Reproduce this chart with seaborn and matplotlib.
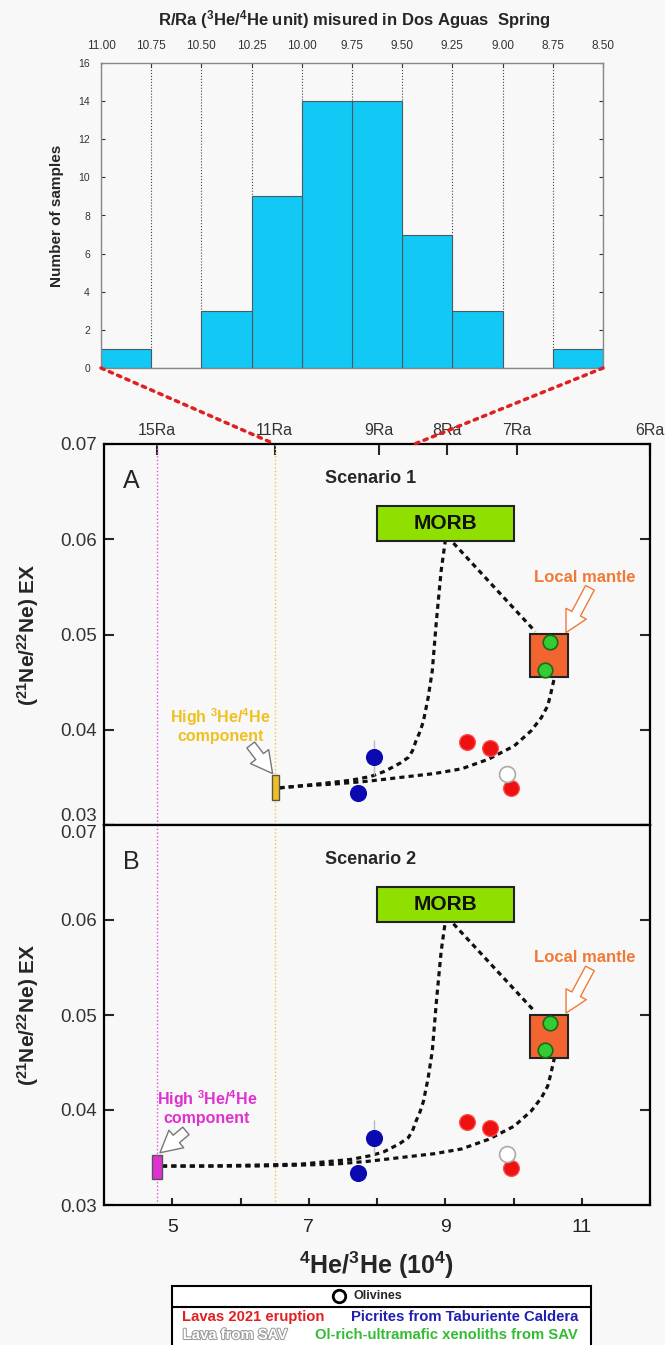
import numpy as np
import pandas as pd
import matplotlib
matplotlib.use("Agg")
import matplotlib.pyplot as plt
import seaborn as sns
from matplotlib.patches import Rectangle, ConnectionPatch
from matplotlib.lines import Line2D
import matplotlib.patheffects as pe

# histogram of R/Ra measured in Dos Aguas spring
hist_edges = [11.00, 10.75, 10.50, 10.25, 10.00, 9.75, 9.50, 9.25, 9.00, 8.75, 8.50]
hist_counts = [1, 0, 3, 9, 14, 14, 7, 3, 0, 1]

# R/Ra ticks on top of the mixing plot (position in 4He/3He x10^4)
ra_pos = [4.78, 6.50, 8.03, 9.03, 10.05, 12.0]
ra_labels = ["15Ra", "11Ra", "9Ra", "8Ra", "7Ra", "6Ra"]

# samples
lavas_x = [9.32, 9.65, 9.96]
lavas_y = [0.0387, 0.0381, 0.0339]
lavas_err = [0.0006, 0.0005, 0.0004]
picrites_x = [7.96, 7.72]
picrites_y = [0.0371, 0.0334]
picrites_err = [0.0018, 0.0]
sav_lava_x = [9.90]
sav_lava_y = [0.0354]
xenolith_x = [10.54, 10.46]
xenolith_y = [0.0492, 0.0463]

# end-members: x0, x1, y0, y1
morb_box = [8.0, 10.0, 0.0598, 0.0635]
mantle_box = [10.24, 10.80, 0.0455, 0.0500]
high_box_a = [6.46, 6.57, 0.0326, 0.0353]
high_box_b = [4.70, 4.85, 0.0327, 0.0353]

# mixing curves
mixA_morb_x = [6.57, 6.88, 7.62, 7.91, 8.10, 8.21, 8.34, 8.46, 8.52, 8.57, 8.63, 8.68, 8.75, 8.81, 8.87, 8.94, 9.00]
mixA_morb_y = [0.0339, 0.0341, 0.0347, 0.0351, 0.0356, 0.0360, 0.0365, 0.0371, 0.0378, 0.0388, 0.0398, 0.0409, 0.0434, 0.0462, 0.0514, 0.0567, 0.0598]
mixA_mantle_x = [6.57, 6.88, 7.37, 7.87, 8.35, 8.84, 9.24, 9.63, 10.01, 10.26, 10.41, 10.50, 10.54, 10.60]
mixA_mantle_y = [0.0339, 0.0341, 0.0343, 0.0346, 0.0350, 0.0354, 0.0359, 0.0369, 0.0383, 0.0399, 0.0413, 0.0425, 0.0436, 0.0455]
mixB_morb_x = [4.85, 5.50, 6.20, 6.88, 7.62, 7.91, 8.10, 8.21, 8.34, 8.46, 8.52, 8.57, 8.63, 8.68, 8.75, 8.81, 8.87, 8.94, 9.00]
mixB_morb_y = [0.0341, 0.0341, 0.0342, 0.0343, 0.0348, 0.0352, 0.0356, 0.0360, 0.0365, 0.0371, 0.0378, 0.0388, 0.0398, 0.0409, 0.0434, 0.0462, 0.0514, 0.0567, 0.0598]
mixB_mantle_x = [4.85, 5.50, 6.20, 6.88, 7.37, 7.87, 8.35, 8.84, 9.24, 9.63, 10.01, 10.26, 10.41, 10.50, 10.54, 10.60]
mixB_mantle_y = [0.0341, 0.0341, 0.0341, 0.0342, 0.0343, 0.0346, 0.0350, 0.0354, 0.0359, 0.0369, 0.0383, 0.0399, 0.0413, 0.0425, 0.0436, 0.0455]
morb_mantle_x = [9.12, 10.32]
morb_mantle_y = [0.0596, 0.0503]

sns.set_style("ticks")
plt.rcParams["font.family"] = ["Liberation Sans", "DejaVu Sans"]
plt.rcParams["mathtext.default"] = "regular"

bg = "#f8f8f8"
W, H = 665, 1345
fig = plt.figure(figsize=(6.65, 13.45), dpi=100, facecolor=bg)


def px_box(l, t, r, b):
    return [l / W, 1 - b / H, (r - l) / W, (b - t) / H]


ax_h = fig.add_axes(px_box(101, 63, 603, 368))
ax_a = fig.add_axes(px_box(104, 444, 650, 825))
ax_b = fig.add_axes(px_box(104, 825, 650, 1205))

# ---- histogram
centers = [(hist_edges[i] + hist_edges[i + 1]) / 2 for i in range(len(hist_counts))]
sns.histplot(x=centers, weights=hist_counts, bins=sorted(hist_edges), color="#12c9f6",
             alpha=1, edgecolor="#4a5a60", linewidth=0.8, ax=ax_h)
ax_h.set_facecolor(bg)
ax_h.set_xlim(11.0, 8.5)
ax_h.set_ylim(0, 16)
ax_h.set_yticks(range(0, 17, 2))
ax_h.set_xticks(hist_edges)
ax_h.set_xticklabels([f"{v:.2f}" for v in hist_edges])
ax_h.xaxis.tick_top()
ax_h.grid(axis="x", linestyle=":", color="#444444", lw=0.8)
ax_h.tick_params(axis="x", top=True, bottom=False, labeltop=True, labelbottom=False,
                 direction="in", length=3, labelsize=8.5, pad=8, colors="#333333")
ax_h.tick_params(axis="y", direction="in", left=True, right=True, length=3,
                 labelsize=7.5, pad=8, colors="#333333")
for s in ax_h.spines.values():
    s.set_color("#888888")
    s.set_linewidth(1)
ax_h.set_xlabel("")
ax_h.set_ylabel("Number of samples", fontsize=11, fontweight="bold", labelpad=10)
fig.text(354 / W, 1 - 20 / H, "R/Ra ($^{3}$He/$^{4}$He unit) misured in Dos Aguas  Spring",
         ha="center", va="center", fontsize=12, fontweight="bold")

arrow_style = "simple,head_length=0.7,head_width=0.75,tail_width=0.32"


# ---- mixing panels
def draw_panel(ax, letter, title, high_box, high_col, high_txt, high_arrow, mix_m, mix_l):
    ax.set_facecolor(bg)
    ax.set_xlim(4, 12)
    ax.set_ylim(0.03, 0.07)
    ax.axvline(ra_pos[0], color="#e050e0", ls=":", lw=1, zorder=1)
    ax.axvline(ra_pos[1], color="#e6c84a", ls=":", lw=1, zorder=1)

    dash = (0, (1.6, 1.3))
    ax.plot(mix_m[0], mix_m[1], color="#111111", lw=2.3, ls=dash, zorder=2)
    ax.plot(mix_l[0], mix_l[1], color="#111111", lw=2.3, ls=dash, zorder=2)
    ax.plot(morb_mantle_x, morb_mantle_y, color="#111111", lw=2.3, ls=dash, zorder=2)

    x0, x1, y0, y1 = morb_box
    ax.add_patch(Rectangle((x0, y0), x1 - x0, y1 - y0, fc="#8fe000", ec="#222222", lw=1.5, zorder=3))
    ax.text((x0 + x1) / 2, (y0 + y1) / 2, "MORB", ha="center", va="center",
            fontsize=15, fontweight="bold", color="#111111", zorder=4)
    x0, x1, y0, y1 = mantle_box
    ax.add_patch(Rectangle((x0, y0), x1 - x0, y1 - y0, fc="#f26530", ec="#222222", lw=1.5, zorder=3))
    x0, x1, y0, y1 = high_box
    ax.add_patch(Rectangle((x0, y0), x1 - x0, y1 - y0, fc=high_col, ec="#555555", lw=1, zorder=3))

    ax.errorbar(lavas_x, lavas_y, yerr=lavas_err, fmt="none", ecolor="#e8a0a0", lw=1, zorder=4)
    ax.errorbar(picrites_x, picrites_y, yerr=picrites_err, fmt="none", ecolor="#b8b8c8", lw=1, zorder=4)
    sns.scatterplot(x=lavas_x, y=lavas_y, color="#ee1111", edgecolor="#ff5050", s=130, ax=ax, zorder=5)
    sns.scatterplot(x=picrites_x, y=picrites_y, color="#0a0ab0", edgecolor="#0a0ab0", s=130, ax=ax, zorder=5)
    sns.scatterplot(x=sav_lava_x, y=sav_lava_y, color="white", edgecolor="#aaaaaa", linewidth=1.2, s=130, ax=ax, zorder=5)
    sns.scatterplot(x=xenolith_x, y=xenolith_y, color="#33cc33", edgecolor="#1a6a1a", linewidth=1.2, s=110, ax=ax, zorder=5)

    ax.text(4.40, 0.0661, letter, fontsize=18, ha="center", va="center")
    ax.text(7.91, 0.0664, title, fontsize=13, fontweight="bold", ha="center", va="center")

    ax.text(11.05, 0.0560, "Local mantle", ha="center", va="center", fontsize=12,
            fontweight="bold", color="#f07a35")
    ax.annotate("", xy=(10.77, 0.0502), xytext=(11.12, 0.0549),
                arrowprops=dict(arrowstyle=arrow_style, fc="white", ec="#f07a35", lw=1,
                                mutation_scale=22, shrinkA=0, shrinkB=0), zorder=6)
    ax.text(high_txt[0], high_txt[1], "High $^{3}$He/$^{4}$He\ncomponent", ha="center", va="center",
            fontsize=11.5, fontweight="bold", color=high_col, linespacing=1.05)
    ax.annotate("", xy=high_arrow[1], xytext=high_arrow[0],
                arrowprops=dict(arrowstyle=arrow_style, fc="white", ec="#777777", lw=1,
                                mutation_scale=22, shrinkA=0, shrinkB=0), zorder=6)

    ax.set_ylabel("($^{21}$Ne/$^{22}$Ne) EX", fontsize=15, fontweight="bold", labelpad=14)
    ax.set_yticks([0.03, 0.04, 0.05, 0.06, 0.07])
    ax.set_yticklabels(["0.03", "0.04", "0.05", "0.06", "0.07"])
    ax.tick_params(axis="y", direction="in", left=True, right=True, length=7, width=1.5,
                   labelsize=13.5, pad=5, labelcolor="#333333")
    for s in ax.spines.values():
        s.set_color("black")
        s.set_linewidth(1.6)


draw_panel(ax_a, "A", "Scenario 1", high_box_a, "#f0c020", (5.71, 0.0405),
           ((6.15, 0.0384), (6.47, 0.0354)), (mixA_morb_x, mixA_morb_y), (mixA_mantle_x, mixA_mantle_y))
draw_panel(ax_b, "B", "Scenario 2", high_box_b, "#e030d0", (5.51, 0.0403),
           ((5.20, 0.0378), (4.82, 0.0355)), (mixB_morb_x, mixB_morb_y), (mixB_mantle_x, mixB_mantle_y))

# panel A: R/Ra on top, nothing at the bottom
ax_a.xaxis.tick_top()
ax_a.set_xticks(ra_pos)
ax_a.set_xticklabels(ra_labels)
ax_a.tick_params(axis="x", top=True, bottom=False, labeltop=True, labelbottom=False,
                 direction="in", length=8, width=1.5, labelsize=11.5, pad=4, labelcolor="#333333")
ax_a.get_yticklabels()[0].set_va("bottom")

# panel B: 4He/3He at the bottom
ax_b.set_xticks(range(4, 13))
ax_b.set_xticklabels(["" if v % 2 == 0 else str(v) for v in range(4, 13)])
ax_b.tick_params(axis="x", top=False, bottom=True, direction="in", length=5, width=1.5,
                 labelsize=14, pad=10, labelcolor="#222222")
ax_b.get_yticklabels()[-1].set_va("top")
ax_b.set_xlabel("$^{4}$He/$^{3}$He (10$^{4}$)", fontsize=18, fontweight="bold", labelpad=10)

# red dotted zoom lines from the histogram to the R/Ra axis
for xa, xb in [(11.0, ra_pos[1]), (8.5, 8.55)]:
    con = ConnectionPatch(xyA=(xa, 0), coordsA=ax_h.transData, xyB=(xb, 0.07), coordsB=ax_a.transData,
                          color="#e02020", lw=2.5, ls=(0, (1, 1.6)), zorder=10)
    fig.add_artist(con)

# legend box
fig.add_artist(Rectangle((172 / W, -0.01), (591 - 172) / W, 1 - 1286 / H + 0.01,
                         transform=fig.transFigure, fc="white", ec="black", lw=1.5))
fig.add_artist(Line2D([172 / W, 591 / W], [1 - 1307 / H] * 2, transform=fig.transFigure, color="black", lw=1.5))
fig.add_artist(Line2D([339 / W], [1 - 1296 / H], transform=fig.transFigure, marker="o",
                      mfc="none", mec="black", ms=9, mew=2))
fig.text(354 / W, 1 - 1296 / H, "Olivines", ha="left", va="center", fontsize=9, fontweight="bold")
fig.text(253 / W, 1 - 1317 / H, "Lavas 2021 eruption", ha="center", va="center",
         fontsize=10.7, fontweight="bold", color="#e02020")
fig.text(465 / W, 1 - 1317 / H, "Picrites from Taburiente Caldera", ha="center", va="center",
         fontsize=10.7, fontweight="bold", color="#2020b0")
fig.text(235 / W, 1 - 1335 / H, "Lava from SAV", ha="center", va="center", fontsize=10.7,
         fontweight="bold", color="white",
         path_effects=[pe.withStroke(linewidth=1.5, foreground="#999999")])
fig.text(446 / W, 1 - 1335 / H, "Ol-rich-ultramafic xenoliths from SAV", ha="center", va="center",
         fontsize=10.7, fontweight="bold", color="#33bb33")

fig.savefig("out.png", dpi=100, facecolor=bg)
